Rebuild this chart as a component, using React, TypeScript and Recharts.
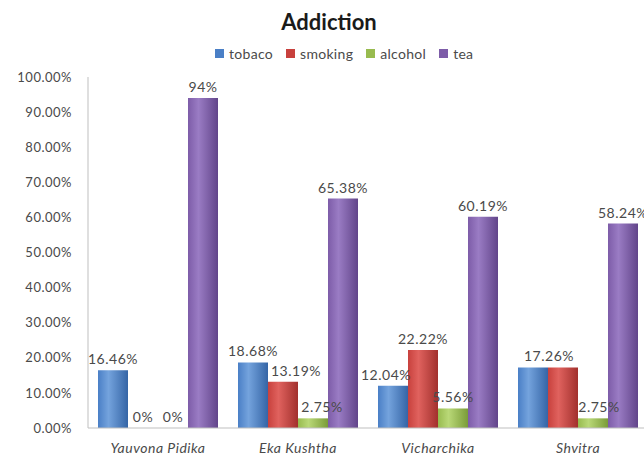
import { BarChart, Bar, XAxis, YAxis, LabelList } from "recharts";

const categories = ["Yauvona Pidika", "Eka Kushtha", "Vicharchika", "Shvitra"];
const tobaco = [16.46, 18.68, 12.04, 17.26];
const smoking = [0, 13.19, 22.22, 17.26];
const alcohol = [0, 2.75, 5.56, 2.75];
const tea = [94, 65.38, 60.19, 58.24];
const yTicks = [0, 10, 20, 30, 40, 50, 60, 70, 80, 90, 100];

const series = [
  { key: "tobaco", light: "#74a3dd", mid: "#4a7fc6", dark: "#3565a6" },
  { key: "smoking", light: "#e0625e", mid: "#c8413d", dark: "#a2302d" },
  { key: "alcohol", light: "#b9d877", mid: "#98bb4f", dark: "#7a9c38" },
  { key: "tea", light: "#9a7cc4", mid: "#7d5ca8", dark: "#62458a" },
];

const data = categories.map((name, i) => ({
  name,
  tobaco: tobaco[i],
  smoking: smoking[i],
  alcohol: alcohol[i],
  tea: tea[i],
}));

// label nudges, like the hand-placed labels in the original
const nudge: Record<string, { dx?: number; hide?: boolean }> = {
  "smoking-1": { dx: 13 },
  "alcohol-1": { dx: 9 },
  "tobaco-2": { dx: -7 },
  "tobaco-3": { dx: 16 },
  "smoking-3": { hide: true },
  "alcohol-3": { dx: 6 },
};

const FONT = "Lato, 'Open Sans', sans-serif";
const TEXT = "#4a4a4a";
const W = 660;
const H = 457;
const MARGIN = { top: 77, right: 12, left: 0, bottom: 0 };

function fmtLabel(v: number) {
  return Number.isInteger(v) ? `${v}%` : `${v.toFixed(2)}%`;
}

const makeLabel = (key: string) => (props: any) => {
  const { x, y, width, value, index } = props;
  const n = nudge[`${key}-${index}`] || {};
  if (n.hide) return null;
  return (
    <text
      x={x + width / 2 + (n.dx || 0)}
      y={y - 6}
      textAnchor="middle"
      style={{ fontSize: 14, fill: TEXT, fontFamily: FONT, letterSpacing: 0.5 }}
    >
      {fmtLabel(value)}
    </text>
  );
};

// same layout twice: bars underneath, labels on top of every bar
function Chart({ labels }: { labels: boolean }) {
  return (
    <BarChart width={W} height={H} data={data} margin={MARGIN} barGap={0} barSize={30}>
      <defs>
        {series.map((s) => (
          <linearGradient key={s.key} id={`g-${s.key}`} x1="0" y1="0" x2="1" y2="0">
            <stop offset="0%" stopColor={s.mid} />
            <stop offset="35%" stopColor={s.light} />
            <stop offset="100%" stopColor={s.dark} />
          </linearGradient>
        ))}
      </defs>
      <XAxis
        dataKey="name"
        height={29}
        axisLine={labels ? false : { stroke: "#bfbfbf" }}
        tickLine={false}
        tickMargin={9}
        tick={labels ? false : { fontSize: 14, fill: TEXT, fontStyle: "italic", fontFamily: FONT, letterSpacing: 0.5 }}
      />
      <YAxis
        width={88}
        domain={[0, 100]}
        ticks={yTicks}
        tickFormatter={(v: number) => `${v.toFixed(2)}%`}
        axisLine={labels ? false : { stroke: "#bfbfbf" }}
        tickLine={false}
        tickMargin={10}
        tick={labels ? false : { fontSize: 13, fill: TEXT, fontFamily: FONT, letterSpacing: 0.5 }}
      />
      {series.map((s) => (
        <Bar
          key={s.key}
          dataKey={s.key}
          fill={labels ? "transparent" : `url(#g-${s.key})`}
          minPointSize={0.01}
          isAnimationActive={false}
        >
          {labels && <LabelList dataKey={s.key} content={makeLabel(s.key)} />}
        </Bar>
      ))}
    </BarChart>
  );
}

export default function App() {
  return (
    <div style={{ position: "absolute", left: 0, top: 0, width: 644, height: 457, overflow: "hidden", background: "#fff" }}>
      <div style={{ position: "absolute", top: 8, left: 0, width: 658, textAlign: "center", fontFamily: FONT, fontWeight: 700, fontSize: 22, color: "#1a1a1a" }}>
        Addiction
      </div>
      <div style={{ position: "absolute", top: 45, left: 215, display: "flex", gap: 13, fontFamily: FONT, fontSize: 14, color: TEXT, letterSpacing: 0.3 }}>
        {series.map((s) => (
          <div key={s.key} style={{ display: "flex", alignItems: "center", gap: 5 }}>
            <div style={{ width: 9, height: 9, background: s.mid }} />
            <span>{s.key}</span>
          </div>
        ))}
      </div>
      <div style={{ position: "absolute", left: 0, top: 0 }}>
        <Chart labels={false} />
      </div>
      <div style={{ position: "absolute", left: 0, top: 0, pointerEvents: "none" }}>
        <Chart labels={true} />
      </div>
    </div>
  );
}
